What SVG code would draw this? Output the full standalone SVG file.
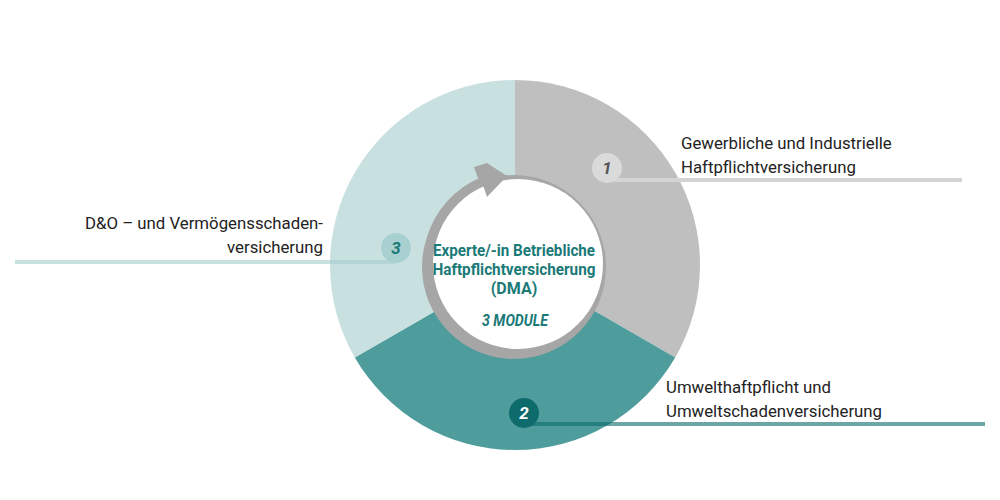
<svg xmlns="http://www.w3.org/2000/svg" width="1000" height="500" viewBox="0 0 1000 500">
<style>
.lbl{font-family:Roboto,"Open Sans",sans-serif;font-size:16.8px;fill:#222}
.ctr{font-family:Roboto,sans-serif;font-weight:bold;font-size:16px;fill:#1b7a78;text-anchor:middle}
.num{font-family:Roboto,sans-serif;font-weight:bold;font-style:italic;font-size:17px;text-anchor:middle}
</style>
<rect width="1000" height="500" fill="#fff"/>
<g id="segments">
<path id="seg1" d="M515,265 L515,80 A185,185 0 0 1 675.2,357.5 Z" fill="#bfbfbf"/>
<path id="seg2" d="M515,265 L675.2,357.5 A185,185 0 0 1 354.8,357.5 Z" fill="#4e9c9c"/>
<path id="seg3" d="M515,265 L354.8,357.5 A185,185 0 0 1 515,80 Z" fill="#c8e0e0"/>
</g>
<g id="connectors">
<line x1="607" y1="180" x2="962" y2="180" stroke="#d4d4d4" stroke-width="4"/>
<line x1="524" y1="424" x2="985" y2="424" stroke="#0e6b6b" stroke-opacity="0.6" stroke-width="4"/>
<line x1="15" y1="262" x2="396" y2="262" stroke="#a9d0d0" stroke-opacity="0.65" stroke-width="4"/>
</g>
<g id="center">
<circle cx="514" cy="267" r="92" fill="#a6a6a6"/>
<path d="M432,240 A88,88 0 0 1 484,182" fill="none" stroke="#a6a6a6" stroke-width="11"/>
<circle cx="518" cy="264" r="85" fill="#fff"/>
<polygon points="474,167 487,163 507,176 487,197 484,188 478,178" fill="#a6a6a6"/>
<text class="ctr" x="514" y="256" textLength="162" lengthAdjust="spacingAndGlyphs">Experte/-in Betriebliche</text>
<text class="ctr" x="514" y="275" textLength="163" lengthAdjust="spacingAndGlyphs">Haftpflichtversicherung</text>
<text class="ctr" x="514" y="294">(DMA)</text>
<text class="ctr" x="515" y="326" font-style="italic" font-size="17" textLength="66" lengthAdjust="spacingAndGlyphs" fill="#237b7b">3 MODULE</text>
</g>
<g id="node1">
<circle cx="607" cy="168" r="15" fill="#dadada"/>
<text class="num" x="607" y="174" fill="#555">1</text>
<text class="lbl" x="681" y="149">Gewerbliche und Industrielle</text>
<text class="lbl" x="681" y="173">Haftpflichtversicherung</text>
</g>
<g id="node2">
<circle cx="524" cy="413" r="15" fill="#0e6b6b"/>
<text class="num" x="524" y="419" fill="#fff" font-style="normal">2</text>
<text class="lbl" x="666" y="393">Umwelthaftpflicht und</text>
<text class="lbl" x="666" y="417">Umweltschadenversicherung</text>
</g>
<g id="node3">
<circle cx="396" cy="248" r="15" fill="#a9d0d0"/>
<text class="num" x="396" y="254" fill="#1b7a78">3</text>
<text class="lbl" x="323" y="229" text-anchor="end">D&amp;O – und Vermögensschaden-</text>
<text class="lbl" x="323" y="253" text-anchor="end">versicherung</text>
</g>
</svg>
